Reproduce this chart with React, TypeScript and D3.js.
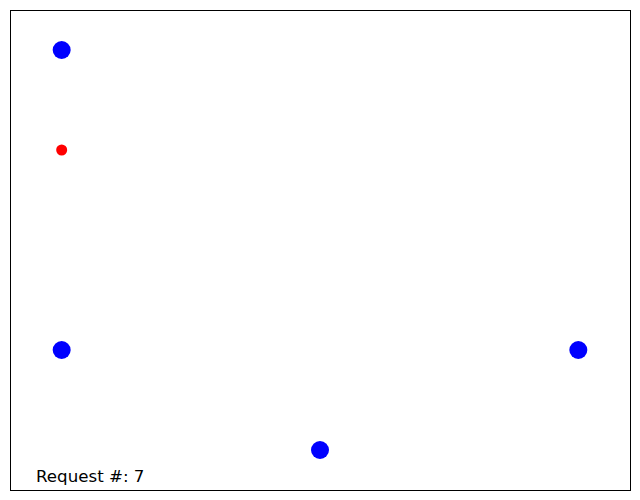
import React from "react";
import * as d3 from "d3";

// node positions (graph layout coordinates)
const blueX = [0, 0, 2, 1];
const blueY = [4, 1, 1, 0];
const redX = [0];
const redY = [3];
const caption = "Request #: 7";

const App = () => {
    const width = 640;
    const height = 500;
    const margin = { top: 10, right: 10, bottom: 10, left: 10 };

    const xScale = d3.scaleLinear()
        .domain([-0.2, 2.2])
        .range([margin.left, width - margin.right]);

    const yScale = d3.scaleLinear()
        .domain([-0.4, 4.4])
        .range([height - margin.bottom, margin.top]);

    return (
        <svg width={width} height={height}
             style={{ position: "absolute", left: 0, top: 0, background: "#fff" }}>
            <rect x={margin.left} y={margin.top}
                  width={width - margin.left - margin.right}
                  height={height - margin.top - margin.bottom}
                  fill="white" stroke="black" strokeWidth={1} shapeRendering="crispEdges" />
            {blueX.map((x, i) => (
                <circle key={"b" + i} cx={xScale(x)} cy={yScale(blueY[i])} r={9} fill="#0000ff" />
            ))}
            {redX.map((x, i) => (
                <circle key={"r" + i} cx={xScale(x)} cy={yScale(redY[i])} r={5.5} fill="#ff0000" />
            ))}
            <text x={36} y={482} fontFamily="DejaVu Sans" fontSize={16.67} fill="black">{caption}</text>
        </svg>
    );
};

export default App;
